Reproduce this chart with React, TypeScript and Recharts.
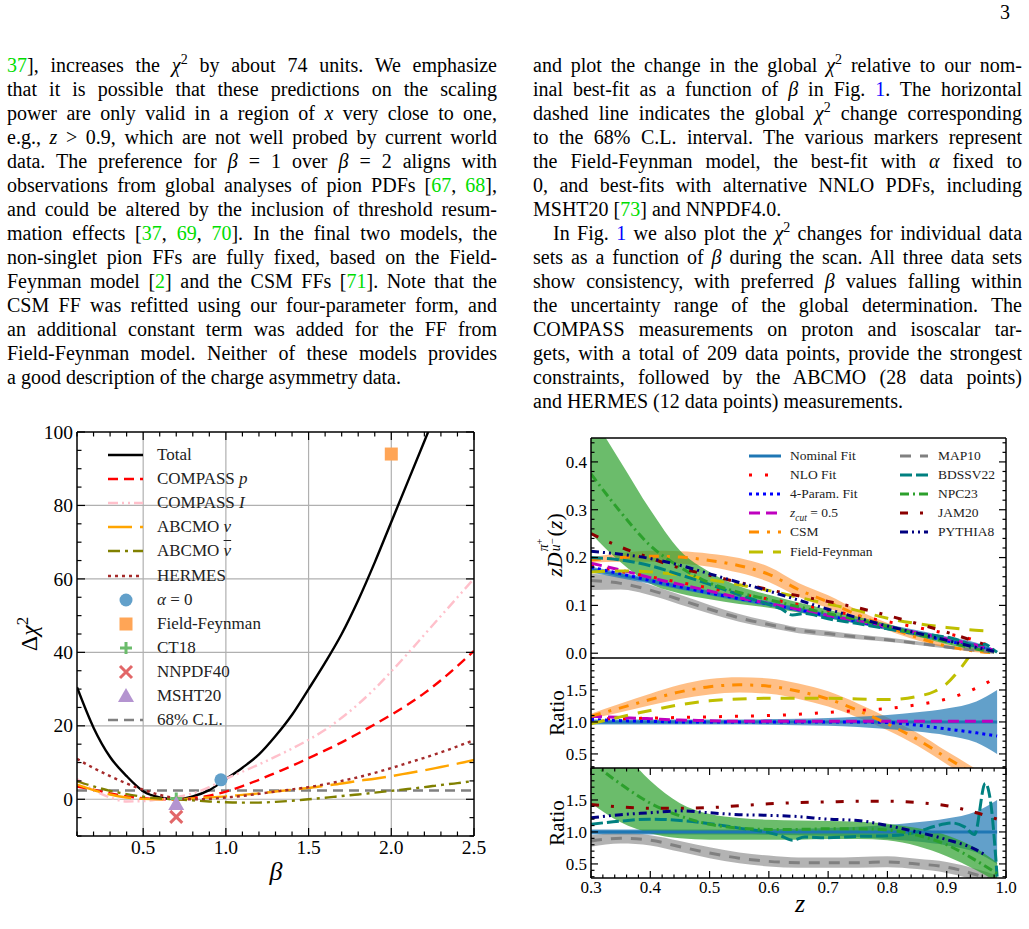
import React, { useLayoutEffect, useRef, useState } from "react"
import {
  Area,
  CartesianGrid,
  ComposedChart,
  Line,
  ReferenceLine,
  Scatter,
  XAxis,
  YAxis,
} from "recharts"

const SERIF = '"Liberation Serif", "Times New Roman", serif'

// ---------- left figure: delta chi2 scan in beta ----------
const betaGrid = [0.1, 0.2, 0.3, 0.4, 0.5, 0.6, 0.7, 0.8, 0.9, 1.0, 1.1, 1.2, 1.3, 1.4, 1.5, 1.6, 1.7, 1.8, 1.9, 2.0, 2.1, 2.2, 2.3, 2.4, 2.5]
const totalChi2 = [30.5, 19.5, 11.5, 6.3, 2.2, 0.5, 0.0, 0.8, 2.5, 5.5, 8.6, 12.2, 17.2, 23, 30, 37.2, 45.0, 54.2, 64.5, 75.5, 86.5, 97.5, 108.5, 119.5, 130.5]
const compassP = [3.5, 2.6, 1.6, 0.8, 0.3, 0.05, 0.0, 0.3, 1.0, 2.1, 3.6, 5.3, 7.2, 9.1, 11.2, 13.3, 15.5, 17.9, 20.4, 23.0, 25.8, 28.9, 32.4, 36.3, 40.4]
const compassI = [5.5, 2.5, 0.5, -0.6, -0.5, 0.0, 0.6, 1.6, 3.3, 5.6, 7.5, 9.5, 11.6, 13.8, 16.2, 18.9, 22.2, 25.9, 30.1, 34.8, 39.7, 44.8, 49.9, 55.0, 60.1]
const abcmoNu = [4.0, 2.5, 1.3, 0.5, 0.1, 0.0, 0.0, 0.2, 0.5, 0.8, 1.2, 1.6, 2.1, 2.6, 3.1, 3.7, 4.3, 5.0, 5.6, 6.3, 7.1, 7.9, 8.8, 9.7, 10.7]
const abcmoNuBar = [4.9, 3.5, 2.3, 1.4, 0.7, 0.2, 0.0, -0.3, -0.6, -0.8, -0.9, -0.9, -0.7, -0.4, 0.0, 0.4, 0.9, 1.3, 1.8, 2.3, 2.8, 3.3, 3.9, 4.4, 5.0]
const hermes = [11.0, 8.5, 6.3, 4.3, 2.6, 1.2, 0.3, 0.0, 0.1, 0.5, 0.9, 1.5, 2.1, 2.7, 3.3, 4.1, 5.0, 6.0, 7.2, 8.5, 9.9, 11.3, 12.8, 14.4, 16.1]
const clLevel = 2.4

const alphaZero = [{ x: 0.97, y: 5.3 }]
const fieldFeynmanPt = [{ x: 2.0, y: 94 }]
const ct18Pt = [{ x: 0.7, y: 0.2 }]
const nnpdf40Pt = [{ x: 0.7, y: -4.8 }]
const msht20Pt = [{ x: 0.7, y: -1.3 }]

const betaMajor = [0.5, 1.0, 1.5, 2.0, 2.5]
const betaGridLines = [0.5, 1.0, 1.5, 2.0]
const chiMajor = [0, 20, 40, 60, 80, 100]
const chiGridLines = [0, 20, 40, 60, 80]

// ---------- right figure: zD(z) and ratios ----------
const zGrid = [0.3, 0.35, 0.4, 0.45, 0.5, 0.55, 0.6, 0.65, 0.7, 0.75, 0.8, 0.85, 0.9, 0.95, 0.98]
const nominal = [0.175, 0.163, 0.151, 0.138, 0.126, 0.114, 0.103, 0.091, 0.078, 0.066, 0.054, 0.042, 0.029, 0.016, 0.006]
const nominalLo = [0.169, 0.157, 0.145, 0.133, 0.121, 0.109, 0.098, 0.086, 0.073, 0.061, 0.048, 0.036, 0.023, 0.011, 0.003]
const nominalHi = [0.181, 0.169, 0.157, 0.143, 0.131, 0.119, 0.108, 0.096, 0.083, 0.071, 0.06, 0.048, 0.035, 0.022, 0.009]
const nloFit = [0.184, 0.171, 0.16, 0.148, 0.136, 0.124, 0.113, 0.102, 0.09, 0.078, 0.066, 0.054, 0.041, 0.026, 0.011]
const fourParam = [0.18, 0.166, 0.152, 0.139, 0.126, 0.114, 0.103, 0.091, 0.078, 0.066, 0.053, 0.04, 0.026, 0.013, 0.005]
const zcut = [0.188, 0.174, 0.158, 0.144, 0.13, 0.116, 0.104, 0.092, 0.079, 0.067, 0.055, 0.043, 0.03, 0.017, 0.006]
const csm = [0.195, 0.2, 0.203, 0.201, 0.194, 0.183, 0.165, 0.133, 0.107, 0.08, 0.055, 0.033, 0.015, 0.004, 0.001]
const csmLo = [0.189, 0.191, 0.191, 0.187, 0.181, 0.168, 0.149, 0.118, 0.094, 0.071, 0.048, 0.027, 0.011, 0.002, 0.0]
const csmHi = [0.201, 0.209, 0.214, 0.213, 0.208, 0.199, 0.181, 0.147, 0.121, 0.09, 0.063, 0.039, 0.019, 0.006, 0.002]
const zFF = [0.3, 0.35, 0.4, 0.45, 0.5, 0.55, 0.6, 0.65, 0.7, 0.75, 0.8, 0.85, 0.9, 0.93, 0.965]
const fieldFeynman = [0.17, 0.172, 0.17, 0.164, 0.154, 0.143, 0.131, 0.117, 0.103, 0.089, 0.073, 0.062, 0.054, 0.05, 0.047]
const map10 = [0.152, 0.146, 0.132, 0.112, 0.092, 0.074, 0.06, 0.048, 0.041, 0.034, 0.028, 0.021, 0.013, 0.006, 0.002]
const map10Lo = [0.132, 0.133, 0.121, 0.102, 0.083, 0.066, 0.053, 0.042, 0.035, 0.029, 0.024, 0.017, 0.01, 0.004, 0.001]
const map10Hi = [0.166, 0.16, 0.143, 0.122, 0.101, 0.082, 0.067, 0.054, 0.047, 0.039, 0.033, 0.025, 0.016, 0.008, 0.003]
const zBdssv = [0.3, 0.35, 0.4, 0.45, 0.5, 0.55, 0.6, 0.62, 0.64, 0.66, 0.7, 0.75, 0.8, 0.85, 0.88, 0.91, 0.93, 0.947, 0.965, 0.975, 0.985]
const bdssv22 = [0.2, 0.195, 0.183, 0.164, 0.144, 0.122, 0.102, 0.093, 0.08, 0.083, 0.072, 0.062, 0.051, 0.042, 0.037, 0.031, 0.023, 0.015, 0.019, 0.011, 0.002]
const npc23 = [0.375, 0.295, 0.225, 0.18, 0.147, 0.127, 0.112, 0.097, 0.083, 0.07, 0.056, 0.04, 0.024, 0.009, 0.002]
const npc23Lo = [0.25, 0.19, 0.145, 0.125, 0.113, 0.103, 0.095, 0.085, 0.073, 0.062, 0.049, 0.035, 0.019, 0.006, 0.001]
const npc23Hi = [0.5, 0.4, 0.3, 0.215, 0.17, 0.14, 0.122, 0.106, 0.091, 0.076, 0.061, 0.044, 0.027, 0.011, 0.003]
const jam20 = [0.25, 0.222, 0.199, 0.178, 0.163, 0.148, 0.133, 0.12, 0.108, 0.095, 0.079, 0.062, 0.044, 0.024, 0.012]
const pythia8 = [0.213, 0.207, 0.198, 0.184, 0.166, 0.148, 0.13, 0.111, 0.092, 0.074, 0.057, 0.042, 0.027, 0.012, 0.004]

const zRatio = [0.3, 0.35, 0.4, 0.45, 0.5, 0.55, 0.6, 0.65, 0.7, 0.75, 0.8, 0.85, 0.9, 0.95, 0.985]
const nominalRatio = [1, 1, 1, 1, 1, 1, 1, 1, 1, 1, 1, 1, 1, 1, 1]
const nominalRatioLo = [0.96, 0.96, 0.96, 0.96, 0.96, 0.96, 0.955, 0.95, 0.94, 0.92, 0.89, 0.85, 0.79, 0.68, 0.5]
const nominalRatioHi = [1.04, 1.04, 1.04, 1.04, 1.04, 1.04, 1.045, 1.05, 1.06, 1.08, 1.11, 1.15, 1.21, 1.32, 1.5]
const nloRatio = [1.05, 1.05, 1.06, 1.07, 1.08, 1.09, 1.1, 1.12, 1.15, 1.18, 1.21, 1.27, 1.36, 1.53, 1.7]
const fourParamRatio = [1.04, 1.02, 1.01, 1.0, 1.0, 1.0, 1.0, 1.0, 1.0, 1.0, 0.99, 0.95, 0.89, 0.83, 0.78]
const zcutRatio = [1.09, 1.07, 1.05, 1.03, 1.02, 1.01, 1.01, 1.01, 1.01, 1.01, 1.01, 1.01, 1.01, 1.01, 1.01]
const csmRatio = [1.09, 1.22, 1.35, 1.47, 1.55, 1.58, 1.56, 1.48, 1.36, 1.18, 0.97, 0.73, 0.44, 0.16, -0.05]
const csmRatioLo = [1.05, 1.15, 1.26, 1.36, 1.43, 1.46, 1.44, 1.36, 1.24, 1.07, 0.87, 0.63, 0.34, 0.06, -0.15]
const csmRatioHi = [1.13, 1.29, 1.44, 1.58, 1.67, 1.7, 1.68, 1.6, 1.48, 1.29, 1.07, 0.83, 0.54, 0.26, 0.05]
const zFFRatio = [0.3, 0.35, 0.4, 0.45, 0.5, 0.55, 0.6, 0.65, 0.7, 0.75, 0.8, 0.85, 0.88, 0.9, 0.92, 0.94]
const ffRatio = [0.97, 1.08, 1.18, 1.27, 1.33, 1.36, 1.37, 1.37, 1.37, 1.36, 1.35, 1.4, 1.48, 1.6, 1.8, 2.05]
const map10Ratio = [0.86, 0.9, 0.87, 0.77, 0.67, 0.59, 0.54, 0.52, 0.52, 0.52, 0.53, 0.5, 0.45, 0.33, 0.22]
const map10RatioLo = [0.77, 0.82, 0.79, 0.69, 0.59, 0.51, 0.46, 0.44, 0.44, 0.44, 0.45, 0.42, 0.36, 0.24, 0.12]
const map10RatioHi = [0.95, 0.98, 0.95, 0.86, 0.76, 0.68, 0.63, 0.6, 0.6, 0.61, 0.62, 0.58, 0.53, 0.42, 0.32]
const npc23Ratio = [2.1, 1.75, 1.45, 1.25, 1.12, 1.06, 1.04, 1.04, 1.05, 1.05, 1.03, 0.95, 0.8, 0.55, 0.35]
const npc23RatioLo = [1.45, 1.15, 0.98, 0.9, 0.88, 0.88, 0.88, 0.88, 0.89, 0.89, 0.87, 0.78, 0.62, 0.4, 0.22]
const npc23RatioHi = [2.8, 2.3, 1.8, 1.45, 1.28, 1.22, 1.19, 1.18, 1.17, 1.16, 1.13, 1.06, 0.95, 0.74, 0.52]
const bdssvRatio = [1.12, 1.17, 1.2, 1.18, 1.13, 1.06, 0.99, 0.94, 0.87, 0.92, 0.91, 0.93, 0.94, 1.0, 1.09, 1.14, 1.08, 0.96, 1.76, 1.4, 0.3]
const jam20Ratio = [1.43, 1.39, 1.37, 1.37, 1.38, 1.41, 1.44, 1.46, 1.47, 1.48, 1.48, 1.46, 1.41, 1.3, 1.2]
const zPythiaRatio = [0.3, 0.35, 0.4, 0.45, 0.5, 0.55, 0.6, 0.65, 0.7, 0.75, 0.8, 0.85, 0.9, 0.95, 0.965]
const pythia8Ratio = [1.22, 1.27, 1.3, 1.33, 1.3, 1.27, 1.26, 1.24, 1.2, 1.18, 1.1, 1.0, 0.88, 0.72, 0.64]

const zMajor = [0.3, 0.4, 0.5, 0.6, 0.7, 0.8, 0.9, 1.0]
const ffMajor = [0.0, 0.1, 0.2, 0.3, 0.4]
const ratioMajor = [0.5, 1.0, 1.5]

const steps = (from: number, to: number, step: number) => {
  const out: number[] = []
  for (let v = from; v <= to + 1e-9; v += step) out.push(+v.toFixed(3))
  return out
}
const betaTicks = steps(0.1, 2.5, 0.1)
const chiTicks = steps(-10, 100, 5)
const zTicks = steps(0.3, 1.0, 0.02)
const ffTicks = steps(0, 0.44, 0.02)
const ratioTicks = steps(0.3, 2.0, 0.1)

const pts = (xs: number[], ys: number[]) => xs.map((x, i) => ({ x, y: ys[i] }))
const band = (xs: number[], lo: number[], hi: number[]) => xs.map((x, i) => ({ x, r: [lo[i], hi[i]] }))

type LineStyle = { color: string; dash?: string; width?: number }
const ST: Record<string, LineStyle> = {
  total: { color: "#000000", width: 2.4 },
  compassP: { color: "#ff0000", dash: "10 6", width: 2.4 },
  compassI: { color: "#ffc0cb", dash: "10 4 2 4 2 4", width: 2.4 },
  abcmoNu: { color: "#ffa500", dash: "24 8", width: 2.4 },
  abcmoNuBar: { color: "#808000", dash: "12 5 3 5", width: 2.4 },
  hermes: { color: "#a52a2a", dash: "3 4", width: 2.4 },
  cl: { color: "#808080", dash: "10 6", width: 2.4 },
  nominal: { color: "#1f77b4", width: 3 },
  nlo: { color: "#ff0000", dash: "3 13", width: 3 },
  fourParam: { color: "#0000ff", dash: "3 4", width: 3 },
  zcut: { color: "#bf00bf", dash: "11 6", width: 3 },
  csm: { color: "#ff8c00", dash: "10 8 3 8", width: 3 },
  ff: { color: "#bfbf00", dash: "14 10", width: 3 },
  map10: { color: "#808080", dash: "11 9", width: 3 },
  bdssv: { color: "#008080", dash: "12 4", width: 3 },
  npc: { color: "#2ca02c", dash: "9 4 2 4", width: 3 },
  jam: { color: "#8b0000", dash: "8 12 3 12", width: 3 },
  pythia: { color: "#000080", dash: "8 4 2 4 2 4", width: 3 },
}

const curve = (key: string, xs: number[], ys: number[], st: LineStyle) => (
  <Line
    key={key}
    data={pts(xs, ys)}
    dataKey="y"
    type="monotone"
    stroke={st.color}
    strokeDasharray={st.dash}
    strokeWidth={st.width ?? 2.8}
    dot={false}
    activeDot={false}
    isAnimationActive={false}
  />
)

const fillBand = (key: string, xs: number[], lo: number[], hi: number[], color: string, opacity: number) => (
  <Area
    key={key}
    data={band(xs, lo, hi)}
    dataKey="r"
    type="monotone"
    stroke="none"
    fill={color}
    fillOpacity={opacity}
    dot={false}
    activeDot={false}
    isAnimationActive={false}
  />
)

type Box = { left: number; right: number; top: number; bottom: number }
const near = (list: number[], v: number) => list.some((m) => Math.abs(m - v) < 1e-6)

function xTick(box: Box, majors: number[], labels: boolean, fs: number, dy: number, big: number, small: number, fmt: (v: number) => string) {
  return (p: any) => {
    const v = Number(p.payload.value)
    const major = near(majors, v)
    const len = major ? big : small
    return (
      <g>
        <line x1={p.x} x2={p.x} y1={box.bottom} y2={box.bottom - len} stroke="#000" strokeWidth={1.2} />
        <line x1={p.x} x2={p.x} y1={box.top} y2={box.top + len} stroke="#000" strokeWidth={1.2} />
        {labels && major ? (
          <text x={p.x} y={box.bottom + dy} textAnchor="middle" fontSize={fs} fontFamily={SERIF} fill="#000">
            {fmt(v)}
          </text>
        ) : null}
      </g>
    )
  }
}

function yTick(box: Box, majors: number[], fs: number, big: number, small: number, fmt: (v: number) => string) {
  return (p: any) => {
    const v = Number(p.payload.value)
    const major = near(majors, v)
    const len = major ? big : small
    return (
      <g>
        <line x1={box.left} x2={box.left + len} y1={p.y} y2={p.y} stroke="#000" strokeWidth={1.2} />
        <line x1={box.right} x2={box.right - len} y1={p.y} y2={p.y} stroke="#000" strokeWidth={1.2} />
        {major ? (
          <text x={box.left - 4} y={p.y + fs * 0.34} textAnchor="end" fontSize={fs} fontFamily={SERIF} fill="#000">
            {fmt(v)}
          </text>
        ) : null}
      </g>
    )
  }
}

const frame = { stroke: "#000", strokeWidth: 1.5 }

// marker shapes for the scan figure
const circleShape = (p: any) => <circle cx={p.cx} cy={p.cy} r={6.5} fill="#62a0ca" />
const squareShape = (p: any) => <rect x={p.cx - 6.5} y={p.cy - 6.5} width={13} height={13} fill="#ffa556" />
const plusShape = (p: any) => (
  <path d={`M${p.cx - 6},${p.cy}H${p.cx + 6}M${p.cx},${p.cy - 6}V${p.cy + 6}`} stroke="#6bbc6b" strokeWidth={3} />
)
const crossShape = (p: any) => (
  <path d={`M${p.cx - 6},${p.cy - 6}L${p.cx + 6},${p.cy + 6}M${p.cx - 6},${p.cy + 6}L${p.cx + 6},${p.cy - 6}`} stroke="#e26768" strokeWidth={3} />
)
const triangleShape = (p: any) => (
  <path d={`M${p.cx},${p.cy - 8}L${p.cx + 8},${p.cy + 6}L${p.cx - 8},${p.cy + 6}Z`} fill="#b494d0" />
)

const chiBox: Box = { left: 77, right: 474, top: 22, bottom: 426 }

function ChiSquareScan() {
  return (
    <div style={{ position: "absolute", left: 0, top: 410 }}>
      <ComposedChart width={500} height={500} margin={{ top: 22, right: 26, bottom: 34, left: 17 }}>
        <CartesianGrid stroke="#b0b0b0" strokeWidth={1.2} verticalValues={betaGridLines} horizontalValues={chiGridLines} />
        <XAxis
          dataKey="x"
          type="number"
          domain={[0.1, 2.5]}
          allowDataOverflow
          ticks={betaTicks}
          interval={0}
          height={40}
          tickSize={0}
          tickMargin={0}
          tickLine={false}
          axisLine={frame}
          tick={xTick(chiBox, betaMajor, true, 19.5, 18, 8, 4.5, (v) => v.toFixed(1))}
        />
        <YAxis
          dataKey="y"
          type="number"
          domain={[-10, 100]}
          allowDataOverflow
          ticks={chiTicks}
          interval={0}
          width={60}
          tickSize={0}
          tickMargin={0}
          tickLine={false}
          axisLine={frame}
          tick={yTick(chiBox, chiMajor, 19.5, 8, 4.5, (v) => String(v))}
        />
        <ReferenceLine y={clLevel} stroke={ST.cl.color} strokeDasharray={ST.cl.dash} strokeWidth={2.4} />
        {curve("total", betaGrid, totalChi2, ST.total)}
        {curve("cp", betaGrid, compassP, ST.compassP)}
        {curve("ci", betaGrid, compassI, ST.compassI)}
        {curve("an", betaGrid, abcmoNu, ST.abcmoNu)}
        {curve("anb", betaGrid, abcmoNuBar, ST.abcmoNuBar)}
        {curve("he", betaGrid, hermes, ST.hermes)}
        <Scatter data={alphaZero} shape={circleShape} isAnimationActive={false} />
        <Scatter data={fieldFeynmanPt} shape={squareShape} isAnimationActive={false} />
        <Scatter data={ct18Pt} shape={plusShape} isAnimationActive={false} />
        <Scatter data={nnpdf40Pt} shape={crossShape} isAnimationActive={false} />
        <Scatter data={msht20Pt} shape={triangleShape} isAnimationActive={false} />
        <ReferenceLine y={100} {...frame} />
        <ReferenceLine x={2.5} {...frame} />
      </ComposedChart>
    </div>
  )
}

const topBox: Box = { left: 60, right: 475, top: 10, bottom: 230 }
const ratioBox: Box = { left: 60, right: 475, top: 5, bottom: 115 }

function FFPanel() {
  return (
    <div style={{ position: "absolute", left: 531, top: 428 }}>
      <ComposedChart width={495} height={235} margin={{ top: 10, right: 20, bottom: 5, left: 0 }}>
        <XAxis
          dataKey="x"
          type="number"
          domain={[0.3, 1.0]}
          allowDataOverflow
          ticks={zTicks}
          interval={0}
          height={0}
          tickSize={0}
          tickMargin={0}
          tickLine={false}
          axisLine={frame}
          tick={xTick(topBox, zMajor, false, 17, 15, 7, 3.5, (v) => v.toFixed(1))}
        />
        <YAxis
          type="number"
          domain={[-0.01, 0.45]}
          allowDataOverflow
          ticks={ffTicks}
          interval={0}
          width={60}
          tickSize={0}
          tickMargin={0}
          tickLine={false}
          axisLine={frame}
          tick={yTick(topBox, ffMajor, 17, 7, 3.5, (v) => v.toFixed(1))}
        />
        {fillBand("b-map", zGrid, map10Lo, map10Hi, "#808080", 0.6)}
        {fillBand("b-csm", zGrid, csmLo, csmHi, "#ff7f0e", 0.5)}
        {fillBand("b-npc", zGrid, npc23Lo, npc23Hi, "#2ca02c", 0.7)}
        {fillBand("b-nom", zGrid, nominalLo, nominalHi, "#1f77b4", 0.7)}
        {curve("nom", zGrid, nominal, ST.nominal)}
        {curve("nlo", zGrid, nloFit, ST.nlo)}
        {curve("fp", zGrid, fourParam, ST.fourParam)}
        {curve("zc", zGrid, zcut, ST.zcut)}
        {curve("csm", zGrid, csm, ST.csm)}
        {curve("ff", zFF, fieldFeynman, ST.ff)}
        {curve("map", zGrid, map10, ST.map10)}
        {curve("bd", zBdssv, bdssv22, ST.bdssv)}
        {curve("npc", zGrid, npc23, ST.npc)}
        {curve("jam", zGrid, jam20, ST.jam)}
        {curve("py", zGrid, pythia8, ST.pythia)}
        <ReferenceLine y={0.45} {...frame} />
        <ReferenceLine x={1.0} {...frame} />
      </ComposedChart>
    </div>
  )
}

function RatioPanel({ top, bottomAxis, children }: { top: number; bottomAxis: boolean; children: React.ReactNode }) {
  return (
    <div style={{ position: "absolute", left: 531, top }}>
      <ComposedChart width={495} height={bottomAxis ? 150 : 120} margin={{ top: 5, right: 20, bottom: 5, left: 0 }}>
        <XAxis
          dataKey="x"
          type="number"
          domain={[0.3, 1.0]}
          allowDataOverflow
          ticks={zTicks}
          interval={0}
          height={bottomAxis ? 30 : 0}
          tickSize={0}
          tickMargin={0}
          tickLine={false}
          axisLine={frame}
          tick={xTick(ratioBox, zMajor, bottomAxis, 17, 15, 7, 3.5, (v) => v.toFixed(1))}
        />
        <YAxis
          type="number"
          domain={[0.28, 2.0]}
          allowDataOverflow
          ticks={ratioTicks}
          interval={0}
          width={60}
          tickSize={0}
          tickMargin={0}
          tickLine={false}
          axisLine={frame}
          tick={yTick(ratioBox, ratioMajor, 17, 7, 3.5, (v) => v.toFixed(1))}
        />
        {children}
        <ReferenceLine y={2.0} {...frame} />
        <ReferenceLine x={1.0} {...frame} />
      </ComposedChart>
    </div>
  )
}

// ---------- legends ----------
function Sample({ st, w }: { st: LineStyle; w: number }) {
  return (
    <svg width={w} height={12} style={{ display: "block" }}>
      <line x1={0} x2={w} y1={6} y2={6} stroke={st.color} strokeDasharray={st.dash} strokeWidth={st.width} />
    </svg>
  )
}

const leftLegend: { label: React.ReactNode; st?: LineStyle; marker?: string }[] = [
  { label: "Total", st: ST.total },
  { label: <>COMPASS <i>p</i></>, st: ST.compassP },
  { label: <>COMPASS <i>I</i></>, st: ST.compassI },
  { label: <>ABCMO <i>ν</i></>, st: ST.abcmoNu },
  { label: <>ABCMO <i style={{ textDecoration: "overline" }}>ν</i></>, st: ST.abcmoNuBar },
  { label: "HERMES", st: ST.hermes },
  { label: <><i>α</i> = 0</>, marker: "circle" },
  { label: "Field-Feynman", marker: "square" },
  { label: "CT18", marker: "plus" },
  { label: "NNPDF40", marker: "cross" },
  { label: "MSHT20", marker: "triangle" },
  { label: "68% C.L.", st: ST.cl },
]

function Marker({ kind }: { kind: string }) {
  const p = { cx: 18, cy: 9 }
  const shapes: Record<string, (p: any) => React.ReactNode> = {
    circle: circleShape,
    square: squareShape,
    plus: plusShape,
    cross: crossShape,
    triangle: triangleShape,
  }
  return (
    <svg width={36} height={18} style={{ display: "block" }}>
      {shapes[kind](p)}
    </svg>
  )
}

function ChiLegend() {
  return (
    <>
      {leftLegend.map((e, i) => (
        <div key={i} style={{ position: "absolute", left: 0, top: 455 + i * 24.1 }}>
          <div style={{ position: "absolute", left: 108, top: e.st ? -6 : -9 }}>
            {e.st ? <Sample st={e.st} w={35} /> : <Marker kind={e.marker!} />}
          </div>
          <div style={{ position: "absolute", left: 157, top: -12, fontSize: 17, lineHeight: "24px", whiteSpace: "nowrap", color: "#222" }}>
            {e.label}
          </div>
        </div>
      ))}
    </>
  )
}

const rightLegendA: { label: React.ReactNode; st: LineStyle }[] = [
  { label: "Nominal Fit", st: ST.nominal },
  { label: "NLO Fit", st: ST.nlo },
  { label: "4-Param. Fit", st: ST.fourParam },
  { label: <><i>z</i><sub style={{ fontSize: "0.7em" }}><i>cut</i></sub> = 0.5</>, st: ST.zcut },
  { label: "CSM", st: ST.csm },
  { label: "Field-Feynman", st: ST.ff },
]
const rightLegendB: { label: React.ReactNode; st: LineStyle }[] = [
  { label: "MAP10", st: ST.map10 },
  { label: "BDSSV22", st: ST.bdssv },
  { label: "NPC23", st: ST.npc },
  { label: "JAM20", st: ST.jam },
  { label: "PYTHIA8", st: ST.pythia },
]

function FFLegend() {
  const col = (items: typeof rightLegendA, sx: number, tx: number, w: number) =>
    items.map((e, i) => (
      <div key={`${sx}-${i}`} style={{ position: "absolute", left: 0, top: 456 + i * 19.1 }}>
        <div style={{ position: "absolute", left: sx, top: -6 }}>
          <Sample st={e.st} w={w} />
        </div>
        <div style={{ position: "absolute", left: tx, top: -10, fontSize: 13.5, lineHeight: "20px", whiteSpace: "nowrap", color: "#222" }}>
          {e.label}
        </div>
      </div>
    ))
  return (
    <>
      {col(rightLegendA, 749, 790, 32)}
      {col(rightLegendB, 900, 938, 28)}
    </>
  )
}

// ---------- page text ----------
const G = ({ children }: { children: React.ReactNode }) => <span style={{ color: "#00dd00" }}>{children}</span>
const B = ({ children }: { children: React.ReactNode }) => <span style={{ color: "#0000ff" }}>{children}</span>
const sq = <sup style={{ fontSize: "0.7em", lineHeight: 0 }}>2</sup>

type TextRow = { text: React.ReactNode; justify: boolean; indent?: number }

const leftColumn: TextRow[] = [
  { text: <><G>37</G>], increases the <i>χ</i>{sq} by about 74 units. We emphasize</>, justify: true },
  { text: <>that it is possible that these predictions on the scaling</>, justify: true },
  { text: <>power are only valid in a region of <i>x</i> very close to one,</>, justify: true },
  { text: <>e.g., <i>z</i> &gt; 0.9, which are not well probed by current world</>, justify: true },
  { text: <>data. The preference for <i>β</i> = 1 over <i>β</i> = 2 aligns with</>, justify: true },
  { text: <>observations from global analyses of pion PDFs [<G>67</G>, <G>68</G>],</>, justify: true },
  { text: <>and could be altered by the inclusion of threshold resum-</>, justify: true },
  { text: <>mation effects [<G>37</G>, <G>69</G>, <G>70</G>]. In the final two models, the</>, justify: true },
  { text: <>non-singlet pion FFs are fully fixed, based on the Field-</>, justify: true },
  { text: <>Feynman model [<G>2</G>] and the CSM FFs [<G>71</G>]. Note that the</>, justify: true },
  { text: <>CSM FF was refitted using our four-parameter form, and</>, justify: true },
  { text: <>an additional constant term was added for the FF from</>, justify: true },
  { text: <>Field-Feynman model. Neither of these models provides</>, justify: true },
  { text: <>a good description of the charge asymmetry data.</>, justify: false },
]

const rightColumn: TextRow[] = [
  { text: <>and plot the change in the global <i>χ</i>{sq} relative to our nom-</>, justify: true },
  { text: <>inal best-fit as a function of <i>β</i> in Fig. <B>1</B>. The horizontal</>, justify: true },
  { text: <>dashed line indicates the global <i>χ</i>{sq} change corresponding</>, justify: true },
  { text: <>to the 68% C.L. interval. The various markers represent</>, justify: true },
  { text: <>the Field-Feynman model, the best-fit with <i>α</i> fixed to</>, justify: true },
  { text: <>0, and best-fits with alternative NNLO PDFs, including</>, justify: true },
  { text: <>MSHT20 [<G>73</G>] and NNPDF4.0.</>, justify: false },
  { text: <>In Fig. <B>1</B> we also plot the <i>χ</i>{sq} changes for individual data</>, justify: true, indent: 20 },
  { text: <>sets as a function of <i>β</i> during the scan. All three data sets</>, justify: true },
  { text: <>show consistency, with preferred <i>β</i> values falling within</>, justify: true },
  { text: <>the uncertainty range of the global determination. The</>, justify: true },
  { text: <>COMPASS measurements on proton and isoscalar tar-</>, justify: true },
  { text: <>gets, with a total of 209 data points, provide the strongest</>, justify: true },
  { text: <>constraints, followed by the ABCMO (28 data points)</>, justify: true },
  { text: <>and HERMES (12 data points) measurements.</>, justify: false },
]

function TextLine({ left, top, width, justify, children }: { left: number; top: number; width: number; justify: boolean; children: React.ReactNode }) {
  const ref = useRef<HTMLSpanElement>(null)
  const [fit, setFit] = useState({ ws: 0, sx: 1 })
  useLayoutEffect(() => {
    const el = ref.current
    if (!el) return
    const w = el.getBoundingClientRect().width
    const spaces = (el.textContent || "").split(" ").length - 1
    if (w > width) setFit({ ws: 0, sx: width / w })
    else if (justify && spaces > 0) setFit({ ws: (width - w) / spaces, sx: 1 })
  }, [width, justify])
  return (
    <span
      ref={ref}
      style={{
        position: "absolute",
        left,
        top,
        whiteSpace: "nowrap",
        wordSpacing: fit.ws,
        transform: `scaleX(${fit.sx})`,
        transformOrigin: "0 0",
        lineHeight: "24px",
      }}
    >
      {children}
    </span>
  )
}

function Column({ rows, left, width }: { rows: TextRow[]; left: number; width: number }) {
  return (
    <>
      {rows.map((r, i) => (
        <TextLine key={i} left={left + (r.indent ?? 0)} top={53 + i * 24} width={width - (r.indent ?? 0)} justify={r.justify}>
          {r.text}
        </TextLine>
      ))}
    </>
  )
}

const centered = (x: number, y: number, rotate = false): React.CSSProperties => ({
  position: "absolute",
  left: x,
  top: y,
  transform: `translate(-50%, -50%)${rotate ? " rotate(-90deg)" : ""}`,
  whiteSpace: "nowrap",
  lineHeight: 1,
})

export default function App() {
  return (
    <div
      style={{
        position: "absolute",
        left: 0,
        top: 0,
        width: 1029,
        height: 929,
        overflow: "hidden",
        background: "#fff",
        color: "#000",
        fontFamily: SERIF,
        fontSize: 20,
      }}
    >
      <span style={{ position: "absolute", left: 1000, top: 0, lineHeight: "24px" }}>3</span>
      <Column rows={leftColumn} left={7} width={490} />
      <Column rows={rightColumn} left={533} width={489} />

      <ChiSquareScan />
      <ChiLegend />
      <div style={{ ...centered(28, 634, true), fontSize: 24 }}>
        Δ<i>χ</i><sup style={{ fontSize: "0.7em" }}>2</sup>
      </div>
      <div style={{ ...centered(276, 872), fontSize: 26 }}>
        <i>β</i>
      </div>

      <FFPanel />
      <RatioPanel top={653} bottomAxis={false}>
        {fillBand("m-csm", zRatio, csmRatioLo, csmRatioHi, "#ff7f0e", 0.5)}
        {fillBand("m-nom", zRatio, nominalRatioLo, nominalRatioHi, "#1f77b4", 0.7)}
        {curve("m-nomline", zRatio, nominalRatio, ST.nominal)}
        {curve("m-nlo", zRatio, nloRatio, ST.nlo)}
        {curve("m-fp", zRatio, fourParamRatio, ST.fourParam)}
        {curve("m-zc", zRatio, zcutRatio, ST.zcut)}
        {curve("m-csm", zRatio, csmRatio, ST.csm)}
        {curve("m-ff", zFFRatio, ffRatio, ST.ff)}
      </RatioPanel>
      <RatioPanel top={763} bottomAxis>
        {fillBand("b-nom", zRatio, nominalRatioLo, nominalRatioHi, "#1f77b4", 0.7)}
        {fillBand("b-map", zRatio, map10RatioLo, map10RatioHi, "#808080", 0.6)}
        {fillBand("b-npc", zRatio, npc23RatioLo, npc23RatioHi, "#2ca02c", 0.7)}
        {curve("b-nomline", zRatio, nominalRatio, ST.nominal)}
        {curve("b-map", zRatio, map10Ratio, ST.map10)}
        {curve("b-bd", zBdssv, bdssvRatio, ST.bdssv)}
        {curve("b-npc", zRatio, npc23Ratio, ST.npc)}
        {curve("b-jam", zRatio, jam20Ratio, ST.jam)}
        {curve("b-py", zPythiaRatio, pythia8Ratio, ST.pythia)}
      </RatioPanel>
      <FFLegend />
      <div style={{ ...centered(553, 545, true), fontSize: 22 }}>
        <i>zD</i>
        <span style={{ position: "relative", display: "inline-block", width: "0.72em", height: "1em" }}>
          <span style={{ position: "absolute", left: 1, top: "-0.42em", fontSize: "0.62em" }}>
            <i>π</i>
            <span style={{ fontSize: "0.8em", verticalAlign: "0.45em" }}>+</span>
          </span>
          <span style={{ position: "absolute", left: 1, top: "0.52em", fontSize: "0.62em" }}>
            <i>u</i>
            <span style={{ fontSize: "0.8em", verticalAlign: "0.4em" }}>−</span>
          </span>
        </span>
        (<i>z</i>)
      </div>
      <div style={{ ...centered(557, 713, true), fontSize: 21 }}>Ratio</div>
      <div style={{ ...centered(557, 823, true), fontSize: 21 }}>Ratio</div>
      <div style={{ ...centered(800, 904), fontSize: 26 }}>
        <i>z</i>
      </div>
    </div>
  )
}
